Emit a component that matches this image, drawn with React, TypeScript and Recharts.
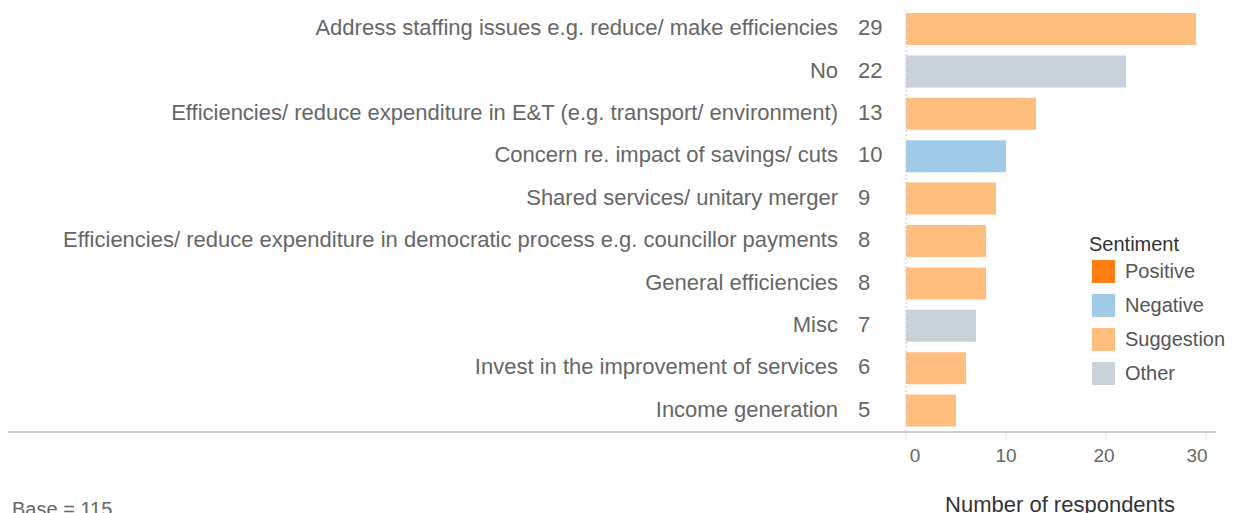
import React from 'react';
import { BarChart, Bar, XAxis, YAxis, Cell, ReferenceLine, Legend } from 'recharts';

const categories = [
  'Address staffing issues e.g. reduce/ make efficiencies',
  'No',
  'Efficiencies/ reduce expenditure in E&T (e.g. transport/ environment)',
  'Concern re. impact of savings/ cuts',
  'Shared services/ unitary merger',
  'Efficiencies/ reduce expenditure in democratic process e.g. councillor payments',
  'General efficiencies',
  'Misc',
  'Invest in the improvement of services',
  'Income generation',
];
const counts = [29, 22, 13, 10, 9, 8, 8, 7, 6, 5];
const sentiments = [
  'Suggestion', 'Other', 'Suggestion', 'Negative', 'Suggestion',
  'Suggestion', 'Suggestion', 'Other', 'Suggestion', 'Suggestion',
];
const legendItems = ['Positive', 'Negative', 'Suggestion', 'Other'];
const xTicks = [0, 10, 20, 30];

const sentimentColors: Record<string, string> = {
  Positive: '#FF7F0E',
  Negative: '#A0CBE8',
  Suggestion: '#FFBE7D',
  Other: '#C9D1DA',
};

const data = categories.map((name, i) => ({ name, count: counts[i], sentiment: sentiments[i] }));

const FONT = '"Liberation Sans", Arial, sans-serif';

// tableau nudges the edge tick labels inwards
const tickShift: Record<number, number> = { 0: 9, 10: 0, 20: -2, 30: -9 };

const XTick = ({ x, y, payload }: any) => (
  <text x={x + (tickShift[payload.value] || 0)} y={y + 19} textAnchor="middle" fill="#666" fontSize={19} fontFamily={FONT}>
    {payload.value}
  </text>
);

const YTick = ({ x, y, payload, index }: any) => (
  <g>
    <text x={x - 68} y={y} dy="0.27em" textAnchor="end" fill="#666" fontSize={22} fontFamily={FONT}>
      {payload.value}
    </text>
    <text x={x - 48} y={y} dy="0.27em" textAnchor="start" fill="#666" fontSize={22} fontFamily={FONT}>
      {counts[index]}
    </text>
  </g>
);

const AxisTitle = ({ viewBox }: any) => (
  <g>
    <text x={viewBox.x + viewBox.width / 2 + 4} y={504} textAnchor="middle" fill="#333" fontSize={22} fontFamily={FONT}>
      Number of respondents
    </text>
    <text x={4} y={508} textAnchor="start" fill="#666" fontSize={20} fontFamily={FONT}>
      Base = 115
    </text>
  </g>
);

const SentimentLegend = () => (
  <div style={{ fontFamily: FONT }}>
    <div style={{ fontSize: 20, lineHeight: '20px', color: '#333' }}>Sentiment</div>
    {legendItems.map((s) => (
      <div key={s} style={{ display: 'flex', alignItems: 'center', height: 34 }}>
        <div style={{ width: 23, height: 23, marginLeft: 3, background: sentimentColors[s] }} />
        <span style={{ marginLeft: 10, fontSize: 20, color: '#555' }}>{s}</span>
      </div>
    ))}
  </div>
);

const App = () => {
  return (
    <div style={{ position: 'relative', width: 1230, height: 520 }}>
      <style>{'body{overflow:hidden}'}</style>
      <BarChart
        width={1230}
        height={520}
        data={data}
        layout="vertical"
        margin={{ top: 0, right: 32, bottom: 0, left: 0 }}
      >
        <XAxis
          type="number"
          domain={[0, 30]}
          ticks={xTicks}
          axisLine={false}
          tickLine={{ stroke: '#e2e2e2' }}
          tickSize={9}
          tickMargin={2}
          tick={<XTick />}
          height={96}
          label={<AxisTitle />}
        />
        <YAxis
          type="category"
          dataKey="name"
          width={898}
          axisLine={false}
          tickLine={false}
          tickSize={0}
          tickMargin={0}
          interval={0}
          tick={<YTick />}
        />
        <ReferenceLine x={0} stroke="#c4c4c4" strokeDasharray="2 2" />
        <Legend
          layout="vertical"
          align="center"
          verticalAlign="middle"
          content={<SentimentLegend />}
          wrapperStyle={{ left: 1081, top: 226, width: 150 }}
        />
        <Bar dataKey="count" barSize={32} isAnimationActive={false}>
          {data.map((d, i) => (
            <Cell key={i} fill={sentimentColors[d.sentiment]} />
          ))}
        </Bar>
      </BarChart>
      <div style={{ position: 'absolute', left: 0, top: 423, width: 1208, height: 2, background: '#cfcfcf' }} />
    </div>
  );
};

export default App;
